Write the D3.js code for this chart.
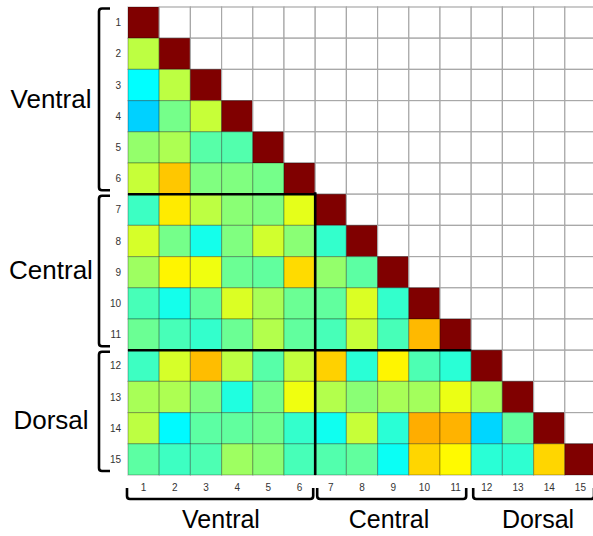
<!DOCTYPE html>
<html>
<head>
<meta charset="utf-8">
<script src="https://cdn.jsdelivr.net/npm/d3@7"></script>
<style>
  html, body { margin: 0; padding: 0; background: #fff; }
  svg { display: block; }
</style>
</head>
<body>
<svg id="chart" width="593" height="536"></svg>
<script>
// ---- data ----
const labels = ["1","2","3","4","5","6","7","8","9","10","11","12","13","14","15"];
const groups = ["Ventral", "Central", "Dorsal"];
const groupStart = [0, 6, 11];   // index of first region in each group
const groupEnd = [6, 11, 15];    // index after last region
// lower-triangle values (row i, columns 1..i-1); diagonal = 1
const rowValues = [
  [],
  [0.56],
  [0.375, 0.56],
  [0.33, 0.49, 0.57],
  [0.52, 0.545, 0.46, 0.455],
  [0.57, 0.68, 0.50, 0.50, 0.49],
  [0.434, 0.645, 0.56, 0.51, 0.50, 0.60],
  [0.585, 0.49, 0.395, 0.50, 0.58, 0.51, 0.425],
  [0.53, 0.635, 0.61, 0.48, 0.47, 0.66, 0.52, 0.465],
  [0.445, 0.395, 0.47, 0.59, 0.54, 0.48, 0.47, 0.59, 0.425],
  [0.48, 0.445, 0.425, 0.48, 0.55, 0.47, 0.445, 0.57, 0.445, 0.694],
  [0.435, 0.585, 0.69, 0.56, 0.46, 0.565, 0.67, 0.415, 0.635, 0.45, 0.415],
  [0.54, 0.545, 0.50, 0.405, 0.49, 0.61, 0.55, 0.51, 0.54, 0.535, 0.605, 0.535],
  [0.56, 0.37, 0.465, 0.47, 0.485, 0.425, 0.39, 0.57, 0.415, 0.705, 0.70, 0.335, 0.47],
  [0.465, 0.435, 0.45, 0.53, 0.51, 0.445, 0.455, 0.47, 0.385, 0.665, 0.63, 0.415, 0.42, 0.665]
];

// ---- build cells ----
const cells = [];
labels.forEach((r, i) => {
  labels.forEach((c, j) => {
    let v = null;
    if (j < i) v = rowValues[i][j];
    else if (j === i) v = 1;
    cells.push({ row: r, col: c, v });
  });
});

function jet(t) {
  const cl = x => Math.max(0, Math.min(1, x));
  const r = cl(1.5 - Math.abs(4 * t - 3));
  const g = cl(1.5 - Math.abs(4 * t - 2));
  const b = cl(1.5 - Math.abs(4 * t - 1));
  return d3.rgb(r * 255, g * 255, b * 255).toString();
}
const color = d3.scaleSequential(jet).domain([0, 1]);

const svg = d3.select("#chart");
const x = d3.scaleBand().domain(labels).range([128, 596]);
const y = d3.scaleBand().domain(labels).range([7, 475]);
const bw = x.bandwidth(), bh = y.bandwidth();
const font = "'Liberation Sans', Arial, Helvetica, sans-serif";

// cells
svg.append("g").selectAll("rect").data(cells).join("rect")
  .attr("x", d => x(d.col))
  .attr("y", d => y(d.row))
  .attr("width", bw)
  .attr("height", bh)
  .attr("fill", d => d.v === null ? "#fff" : color(d.v))
  .attr("stroke", d => d.v === null ? "#a8a8a8" : "rgba(0,0,0,0.25)")
  .attr("stroke-width", 1.2);

// thick block lines
const edge = k => 128 + k * bw;
const edgeY = k => 7 + k * bh;
const thick = svg.append("g").attr("stroke", "#000").attr("stroke-width", 2.6).attr("fill", "none");
thick.append("line").attr("x1", edge(0)).attr("x2", edge(groupEnd[0]) + 1).attr("y1", edgeY(groupEnd[0])).attr("y2", edgeY(groupEnd[0]));
thick.append("line").attr("x1", edge(groupEnd[0])).attr("x2", edge(groupEnd[0])).attr("y1", edgeY(groupEnd[0]) - 2).attr("y2", edgeY(15));
thick.append("line").attr("x1", edge(0)).attr("x2", edge(groupEnd[1])).attr("y1", edgeY(groupEnd[1])).attr("y2", edgeY(groupEnd[1]));

// tick labels
svg.append("g").selectAll("text").data(labels).join("text")
  .attr("x", 121)
  .attr("y", d => y(d) + bh / 2 + 3.5)
  .attr("text-anchor", "end")
  .attr("font-family", font)
  .attr("font-size", 10)
  .attr("fill", "#333")
  .text(d => d);
svg.append("g").selectAll("text").data(labels).join("text")
  .attr("x", d => x(d) + bw / 2)
  .attr("y", 490.5)
  .attr("text-anchor", "middle")
  .attr("font-family", font)
  .attr("font-size", 10)
  .attr("fill", "#333")
  .text(d => d);

// brackets
const br = svg.append("g").attr("stroke", "#000").attr("stroke-width", 2.6).attr("fill", "none")
  .attr("stroke-linejoin", "round");
groups.forEach((g, k) => {
  const y0 = edgeY(groupStart[k]) + 1.5, y1 = edgeY(groupEnd[k]) - 4;
  br.append("path").attr("d", `M110,${y0} H102 Q99,${y0} 99,${y0 + 3} V${y1 - 3} Q99,${y1} 102,${y1} H110`);
  const x0 = edge(groupStart[k]) + (k === 0 ? -1 : 2), x1 = edge(groupEnd[k]) - (k === 1 ? 5 : 2);
  br.append("path").attr("d", `M${x0},488 V496 Q${x0},499 ${x0 + 3},499 H${x1 - 3} Q${x1},499 ${x1},496 V488`);
});

// group labels
const leftY = [108, 279, 429];
svg.append("g").selectAll("text").data(groups).join("text")
  .attr("x", 51)
  .attr("y", (d, k) => leftY[k])
  .attr("text-anchor", "middle")
  .attr("font-family", font)
  .attr("font-size", 26)
  .attr("fill", "#000")
  .text(d => d);
const bottomX = [221, 389, 538];
svg.append("g").selectAll("text").data(groups).join("text")
  .attr("x", (d, k) => bottomX[k])
  .attr("y", 528)
  .attr("text-anchor", "middle")
  .attr("font-family", font)
  .attr("font-size", 25)
  .attr("fill", "#000")
  .text(d => d);
</script>
</body>
</html>
